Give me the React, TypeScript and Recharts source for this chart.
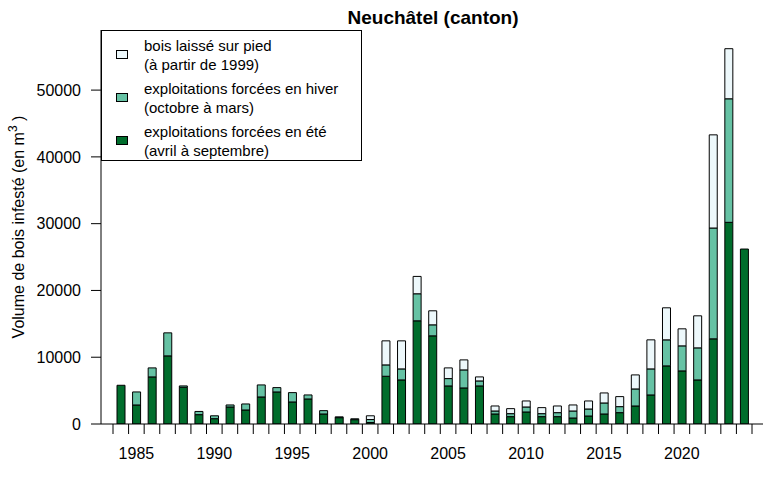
import { ComposedChart, Bar, Line, XAxis, YAxis, Legend, Label } from 'recharts';

// années 1984 à 2024
const years = [
  1984, 1985, 1986, 1987, 1988, 1989, 1990, 1991, 1992, 1993, 1994, 1995, 1996, 1997,
  1998, 1999, 2000, 2001, 2002, 2003, 2004, 2005, 2006, 2007, 2008, 2009, 2010, 2011,
  2012, 2013, 2014, 2015, 2016, 2017, 2018, 2019, 2020, 2021, 2022, 2023, 2024,
];

// exploitations forcées en été (avril à septembre)
const ete = [
  5800, 2850, 7050, 10200, 5500, 1400, 800, 2550, 2100, 4050, 4800, 3300, 3750, 1500,
  950, 650, 220, 7150, 6600, 15450, 13200, 5700, 5400, 5700, 1500, 1100, 1800, 1100,
  1100, 900, 1200, 1500, 1700, 2700, 4350, 8700, 7950, 6600, 12750, 30200, 26200,
];

// exploitations forcées en hiver (octobre à mars)
const hiver = [
  0, 1950, 1350, 3450, 200, 480, 430, 300, 900, 1800, 650, 1400, 600, 500,
  120, 130, 450, 1700, 1650, 4050, 1650, 1100, 2700, 750, 450, 450, 750, 450,
  600, 1050, 1050, 1650, 900, 2550, 3900, 3900, 3750, 4800, 16600, 18500, 0,
];

// bois laissé sur pied (à partir de 1999)
const surPied = [
  0, 0, 0, 0, 0, 0, 0, 0, 0, 0, 0, 0, 0, 0,
  0, 0, 560, 3600, 4200, 2600, 2100, 1600, 1500, 600, 750, 750, 900, 900,
  1000, 900, 1200, 1500, 1500, 2100, 4350, 4800, 2550, 4800, 13950, 7500, 0,
];

const yTicks = [0, 10000, 20000, 30000, 40000, 50000];
const labelYears = [1985, 1990, 1995, 2000, 2005, 2010, 2015, 2020];

const data = years.map((year, i) => ({
  year,
  ete: ete[i],
  hiver: hiver[i],
  surPied: surPied[i],
}));

const FONT = 'Liberation Sans, Arial, sans-serif';
const C_ETE = '#006d2c';
const C_HIVER = '#66c2a4';
const C_PIED = '#edf8fb';
const Y_MAX = 59000;

const PAD_L = 12;
const PAD_R = 11;
const PLOT_W = 662;
const BW = (PLOT_W - PAD_L - PAD_R) / years.length;

const XTick = (props: any) => {
  const { x, y, payload, index } = props;
  const last = index === years.length - 1;
  return (
    <g>
      <line x1={x - BW / 2} x2={x - BW / 2} y1={y} y2={y + 10} stroke="#000" />
      {last && <line x1={x + BW / 2} x2={x + BW / 2} y1={y} y2={y + 10} stroke="#000" />}
      {labelYears.includes(payload.value) && (
        <text x={x} y={y + 35} textAnchor="middle" fontSize={16} fontFamily={FONT} fill="#000">
          {payload.value}
        </text>
      )}
    </g>
  );
};

const legendItems = [
  { color: C_PIED, l1: 'bois laissé sur pied', l2: '(à partir de 1999)' },
  { color: C_HIVER, l1: 'exploitations forcées en hiver', l2: '(octobre à mars)' },
  { color: C_ETE, l1: 'exploitations forcées en été', l2: '(avril à septembre)' },
];

const LegendBox = () => (
  <div
    style={{
      position: 'relative',
      width: 261,
      height: 131,
      boxSizing: 'border-box',
      border: '1px solid #000',
      background: '#fff',
      fontFamily: FONT,
      fontSize: 15,
      color: '#000',
      textAlign: 'left',
    }}
  >
    {legendItems.map((it, i) => (
      <div key={i} style={{ position: 'absolute', left: 0, top: 5 + i * 43, width: 258 }}>
        <div
          style={{
            position: 'absolute',
            left: 14,
            top: 14,
            width: 12,
            height: 9,
            boxSizing: 'border-box',
            border: '1px solid #000',
            background: it.color,
          }}
        />
        <div style={{ position: 'absolute', left: 42, top: 0, lineHeight: '19px', whiteSpace: 'nowrap' }}>
          {it.l1}
          <br />
          {it.l2}
        </div>
      </div>
    ))}
  </div>
);

export default function App() {
  return (
    <div style={{ position: 'absolute', left: 0, top: 0 }}>
      <ComposedChart
        width={768}
        height={484}
        data={data}
        margin={{ top: 30, right: 5, bottom: 0, left: 0 }}
        barSize={8}
      >
        <XAxis
          dataKey="year"
          interval={0}
          padding={{ left: PAD_L, right: PAD_R }}
          height={60}
          tickLine={false}
          tickSize={0}
          tickMargin={0}
          axisLine={{ stroke: '#000' }}
          tick={<XTick />}
        />
        <XAxis
          xAxisId="top"
          dataKey="year"
          orientation="top"
          height={0}
          tick={false}
          tickLine={false}
          axisLine={{ stroke: '#000' }}
        />
        <YAxis
          domain={[0, Y_MAX]}
          ticks={yTicks}
          width={101}
          tickSize={10}
          tickMargin={10}
          allowDataOverflow
          axisLine={{ stroke: '#000' }}
          tickLine={{ stroke: '#000' }}
          tick={{ fill: '#000', fontSize: 16, fontFamily: FONT }}
        >
          <Label
            content={() => (
              <text
                x={24}
                y={227}
                transform="rotate(-90, 24, 227)"
                textAnchor="middle"
                fontSize={16}
                fontFamily={FONT}
                fill="#000"
              >
                Volume de bois infesté (en m
                <tspan dy={-7} fontSize={12}>3</tspan>
                <tspan dy={7}> )</tspan>
              </text>
            )}
          />
          <Label
            content={() => (
              <text x={433} y={24} textAnchor="middle" fontSize={19} fontWeight="bold" fontFamily={FONT} fill="#000">
                Neuchâtel (canton)
              </text>
            )}
          />
        </YAxis>
        <YAxis
          yAxisId="right"
          orientation="right"
          domain={[0, Y_MAX]}
          width={0}
          tick={false}
          tickLine={false}
          axisLine={{ stroke: '#000' }}
        />
        <Legend
          layout="horizontal"
          verticalAlign="middle"
          align="center"
          content={<LegendBox />}
          wrapperStyle={{ position: 'absolute', left: 101, top: 30, width: 261, height: 131 }}
        />
        <Bar dataKey="ete" stackId="a" fill={C_ETE} stroke="#000" strokeWidth={1} isAnimationActive={false} />
        <Bar dataKey="hiver" stackId="a" fill={C_HIVER} stroke="#000" strokeWidth={1} isAnimationActive={false} />
        <Bar dataKey="surPied" stackId="a" fill={C_PIED} stroke="#000" strokeWidth={1} isAnimationActive={false} />
        {/* série invisible qui sert seulement à faire tracer le cadre haut/droite */}
        <Line
          xAxisId="top"
          yAxisId="right"
          dataKey="ete"
          stroke="none"
          dot={false}
          activeDot={false}
          legendType="none"
          isAnimationActive={false}
        />
      </ComposedChart>
    </div>
  );
}
